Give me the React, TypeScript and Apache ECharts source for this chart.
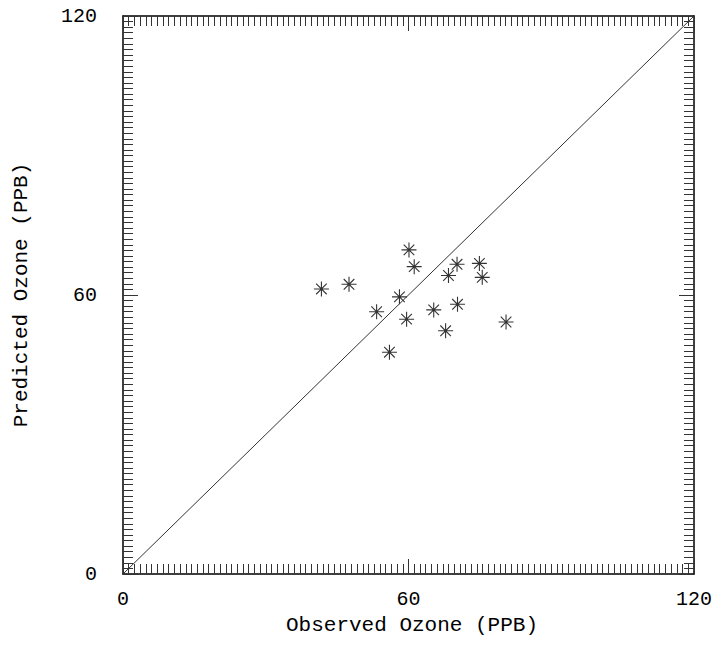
import React, { useEffect, useRef } from "react";
import * as echarts from "echarts";

const observed = [41.7, 47.5, 60.1, 61.2, 58.1, 53.3, 59.6, 56.0, 65.3, 68.4, 70.2, 70.3, 67.8, 74.9, 75.5, 80.5];
const predicted = [61.3, 62.3, 69.7, 66.1, 59.6, 56.4, 54.8, 47.7, 56.8, 64.2, 66.6, 58.0, 52.3, 66.8, 63.8, 54.2];
const oneToOne = [[0, 0], [120, 120]];
const axisMin = 0;
const axisMax = 120;
const majorStep = 60;
const minorPerMajor = 50;
const xTitle = "Observed Ozone (PPB)";
const yTitle = "Predicted Ozone (PPB)";

const FONT = "Liberation Mono";
const STAR =
  "path://M0,-1L0,1M-1,0L1,0M-0.7071,-0.7071L0.7071,0.7071M-0.7071,0.7071L0.7071,-0.7071";

function axisBase(showLabel: boolean, margin: number) {
  return {
    type: "value" as const,
    min: axisMin,
    max: axisMax,
    interval: majorStep,
    axisLine: { show: true, onZero: false, lineStyle: { color: "#000", width: 1.5 } },
    axisTick: { show: true, inside: true, length: 15, lineStyle: { color: "#333", width: 1 } },
    minorTick: { show: true, splitNumber: minorPerMajor, length: 10, lineStyle: { color: "#333", width: 1 } },
    splitLine: { show: false },
    minorSplitLine: { show: false },
    axisLabel: {
      show: showLabel,
      color: "#000",
      fontFamily: FONT,
      fontSize: 20,
      margin,
    },
  };
}

export default function App() {
  const ref = useRef<HTMLDivElement>(null);
  useEffect(() => {
    document.body.style.margin = "0";
    if (!ref.current) return;
    const chart = echarts.init(ref.current, null, { renderer: "svg" });
    chart.setOption({
      animation: false,
      backgroundColor: "#fff",
      grid: { left: 123, top: 16, width: 571, height: 558 },
      xAxis: [
        { ...axisBase(true, 15), position: "bottom" },
        { ...axisBase(false, 8), position: "top" },
      ],
      yAxis: [
        { ...axisBase(true, 26), position: "left" },
        { ...axisBase(false, 8), position: "right" },
      ],
      series: [
        {
          type: "line",
          data: oneToOne,
          xAxisIndex: 0,
          yAxisIndex: 0,
          symbol: "none",
          lineStyle: { color: "#333", width: 1 },
          silent: true,
        },
        {
          type: "scatter",
          data: observed.map((v, i) => [v, predicted[i]]),
          xAxisIndex: 0,
          yAxisIndex: 0,
          symbol: STAR,
          symbolSize: 15,
          itemStyle: { color: "transparent", borderColor: "#000", borderWidth: 1.1 },
        },
      ],
      graphic: [
        {
          type: "text",
          x: 412,
          y: 625,
          style: {
            text: xTitle,
            fontFamily: FONT,
            fontSize: 21,
            fill: "#000",
            align: "center",
            verticalAlign: "middle",
          },
        },
        {
          type: "text",
          x: 21,
          y: 295,
          rotation: Math.PI / 2,
          style: {
            text: yTitle,
            fontFamily: FONT,
            fontSize: 21,
            fill: "#000",
            align: "center",
            verticalAlign: "middle",
          },
        },
      ],
    });
    return () => chart.dispose();
  }, []);
  return <div ref={ref} style={{ width: 718, height: 658 }} />;
}
